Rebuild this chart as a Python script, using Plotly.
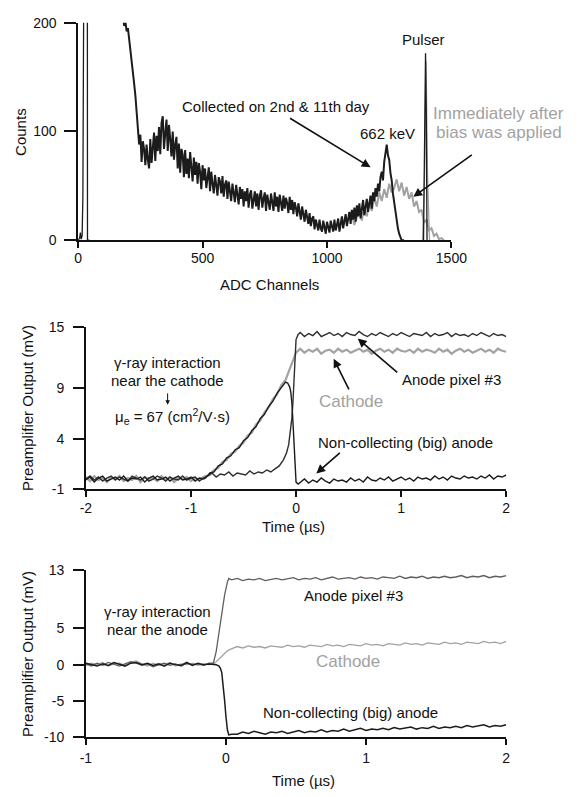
import numpy as np
import plotly.graph_objects as go

W, H = 579, 797

# ---------------- Top panel: spectra (ADC channel vs counts) ----------------
spec_start, spec_step = 180, 5
spec_black = [
    206, 197, 201, 192, 195, 185, 180, 167, 158, 144,
    133, 116, 108, 88, 97, 72, 91, 84, 69, 88,
    74, 66, 93, 71, 85, 99, 73, 96, 82, 104,
    79, 108, 114, 84, 98, 111, 82, 106, 93, 77,
    100, 74, 88, 95, 66, 89, 62, 84, 79, 58,
    83, 61, 75, 57, 81, 66, 54, 76, 60, 72,
    52, 71, 63, 47, 69, 55, 66, 48, 61, 67,
    45, 63, 52, 43, 60, 49, 41, 58, 54, 43,
    59, 40, 51, 55, 38, 54, 46, 36, 52, 43,
    35, 51, 44, 33, 49, 38, 47, 31, 45, 36,
    48, 30, 42, 46, 29, 40, 45, 31, 43, 28,
    41, 46, 30, 38, 44, 27, 42, 35, 28, 43,
    33, 27, 44, 31, 40, 26, 42, 36, 27, 41,
    29, 39, 34, 25, 40, 28, 37, 24, 35, 30,
    22, 34, 27, 19, 31, 24, 17, 28, 21, 15,
    25, 13, 20, 22, 10, 19, 14, 9, 19, 11,
    8, 18, 12, 6, 17, 10, 7, 18, 11, 8,
    19, 9, 14, 20, 8, 17, 22, 11, 19, 24,
    13, 21, 26, 15, 28, 19, 30, 17, 32, 22,
    34, 20, 29, 37, 23, 33, 38, 26, 35, 41,
    29, 44, 36, 48, 40, 52, 45, 58, 63, 55,
    72, 80, 88, 78, 74, 62, 55, 43, 34, 25,
    17, 11, 6, 2, 0, 0, 0,
]
gray_start, gray_step = 1100, 10
spec_gray = [
    24, 14, 21, 29, 18, 31, 22, 35, 27, 39,
    31, 44, 36, 47, 39, 52, 44, 48, 56, 45,
    53, 41, 49, 38, 44, 31, 36, 26, 28, 16,
    19, 9, 11, 4, 6, 1, 2, 0,
]
low_spike_ch = [0, 6, 9, 12, 16, 19, 23, 30, 37, 37.5, 45]
low_spike_counts = [0, 2, 7, 1, 4, 40, 260, 300, 260, 0, 0]
pulser_black_ch = [1388, 1394, 1396, 1399, 1402]
pulser_black_counts = [0, 120, 172, 118, 0]
pulser_gray_ch = [1384, 1392, 1398, 1404, 1412]
pulser_gray_counts = [0, 60, 165, 60, 0]

# ---------------- Middle panel: near-cathode interaction ----------------
mid_t_pre = np.round(np.arange(-2.0, -0.87, 0.04), 2)
mid_cath_pre = [0.2, -0.2, 0.3, -0.1, 0.1, -0.3, 0.2, 0.0, 0.3, -0.2, 0.1, -0.1, 0.3, -0.3, 0.2,
                0.0, 0.1, -0.2, 0.3, -0.1, 0.2, -0.3, 0.1, 0.0, 0.2, -0.2, 0.1, -0.1, 0.2]
mid_big_pre = [-0.1, 0.2, -0.3, 0.1, 0.3, -0.2, 0.0, 0.2, -0.1, 0.3, -0.2, 0.1, 0.0, 0.2, -0.3,
               0.1, 0.3, -0.1, 0.0, 0.2, -0.2, 0.1, 0.3, -0.1, 0.0, 0.2, -0.2, 0.1, 0.0]
mid_anode_pre = [0.0, 0.3, -0.1, 0.2, -0.2, 0.1, 0.3, -0.1, 0.2, 0.0, -0.2, 0.3, 0.1, -0.1, 0.2,
                 -0.2, 0.0, 0.3, 0.1, -0.2, 0.2, 0.0, -0.1, 0.3, -0.1, 0.1, 0.2, -0.2, 0.1]

mid_cath_rise_t = [-0.86, -0.82, -0.78, -0.74, -0.70, -0.66, -0.62, -0.58, -0.54, -0.50,
                   -0.46, -0.42, -0.38, -0.34, -0.30, -0.26, -0.22, -0.18, -0.14, -0.10,
                   -0.06, -0.03, 0.00]
mid_cath_rise_v = [0.3, 0.4, 0.9, 1.1, 1.7, 1.9, 2.5, 2.7, 3.3, 3.6,
                   4.3, 4.6, 5.4, 5.8, 6.6, 7.1, 7.9, 8.4, 9.3, 9.8,
                   10.9, 11.6, 12.5]
mid_big_rise_t = [-0.86, -0.82, -0.78, -0.74, -0.70, -0.66, -0.62, -0.58, -0.54, -0.50,
                  -0.46, -0.42, -0.38, -0.34, -0.30, -0.26, -0.22, -0.18, -0.14,
                  -0.12, -0.10, -0.08, -0.06, -0.05, -0.04, -0.03, -0.02, -0.01, 0.00, 0.02]
mid_big_rise_v = [0.1, 0.6, 0.7, 1.3, 1.5, 2.1, 2.3, 2.9, 3.1, 3.8,
                  4.1, 4.8, 5.2, 6.0, 6.4, 7.2, 7.7, 8.5, 9.1,
                  9.4, 9.6, 9.5, 9.1, 8.6, 7.6, 5.8, 3.2, 1.0, -0.3, -0.5]
mid_anode_rise_t = [-0.84, -0.80, -0.76, -0.72, -0.68, -0.64, -0.60, -0.56, -0.52, -0.48,
                    -0.44, -0.40, -0.36, -0.32, -0.28, -0.24,
                    -0.20, -0.16, -0.12, -0.09, -0.07, -0.05, -0.04, -0.03, -0.02, -0.01, 0.00, 0.02]
mid_anode_rise_v = [0.3, 0.6, 0.2, 0.5, 0.4, 0.7, 0.3, 0.6, 0.5, 0.4,
                    0.8, 0.5, 0.7, 0.6, 0.9, 0.7,
                    1.0, 1.3, 1.9, 2.6, 3.4, 4.8, 6.0, 7.5, 9.3, 11.6, 13.8, 14.3]

mid_t_post = np.round(np.arange(0.04, 2.001, 0.04), 2)
mid_cath_post = [12.9, 12.5, 12.8, 12.6, 12.9, 12.4, 12.7, 12.8, 12.5, 12.9,
                 12.6, 12.8, 12.5, 12.7, 12.9, 12.6, 12.8, 12.4, 12.7, 12.9,
                 12.6, 12.8, 12.5, 12.9, 12.7, 12.6, 12.8, 12.5, 12.9, 12.6,
                 12.8, 12.7, 12.5, 12.9, 12.6, 12.8, 12.4, 12.7, 12.9, 12.6,
                 12.8, 12.5, 12.7, 12.9, 12.6, 12.8, 12.5, 12.9, 12.7, 12.6]
mid_big_post = [-0.3, 0.0, -0.4, -0.1, -0.3, 0.1, -0.2, -0.4, 0.0, -0.2,
                -0.1, -0.3, 0.1, -0.2, 0.0, -0.3, 0.2, -0.1, -0.2, 0.1,
                -0.1, 0.2, -0.2, 0.0, 0.2, -0.1, 0.1, -0.2, 0.2, 0.0,
                0.1, -0.1, 0.3, 0.0, 0.2, -0.1, 0.3, 0.1, 0.0, 0.3,
                0.1, 0.2, 0.0, 0.3, 0.1, 0.4, 0.0, 0.3, 0.2, 0.4]
mid_anode_post = [14.5, 14.1, 14.4, 14.2, 14.6, 14.1, 14.3, 14.5, 14.2, 14.4,
                  14.1, 14.5, 14.3, 14.2, 14.6, 14.3, 14.1, 14.4, 14.2, 14.5,
                  14.3, 14.1, 14.4, 14.2, 14.5, 14.3, 14.1, 14.4, 14.3, 14.2,
                  14.5, 14.1, 14.4, 14.2, 14.3, 14.5, 14.1, 14.4, 14.2, 14.3,
                  14.1, 14.4, 14.2, 14.5, 14.3, 14.1, 14.4, 14.2, 14.3, 14.1]

# ---------------- Bottom panel: near-anode interaction ----------------
bot_t_pre = np.round(np.arange(-1.0, -0.119, 0.04), 2)
bot_anode_pre = [0.1, -0.2, 0.2, -0.1, 0.3, 0.0, -0.2, 0.1, 0.4, 0.2, -0.1, 0.1,
                 -0.3, 0.0, 0.2, -0.1, 0.1, -0.2, 0.2, 0.0, 0.1, -0.1, 0.2]
bot_cath_pre = [-0.1, 0.2, 0.0, 0.3, -0.2, 0.1, 0.2, -0.1, 0.3, 0.5, 0.1, -0.2,
                0.2, -0.1, 0.0, 0.3, -0.2, 0.1, 0.0, 0.2, -0.1, 0.1, 0.0]
bot_big_pre = [0.2, 0.0, -0.2, 0.1, -0.1, 0.3, 0.1, -0.2, 0.2, 0.3, 0.0, 0.2,
               -0.1, 0.1, -0.2, 0.2, 0.0, -0.1, 0.3, -0.1, 0.2, 0.0, 0.1]
bot_anode_rise_t = [-0.09, -0.07, -0.05, -0.03, -0.01, 0.01, 0.02, 0.04]
bot_anode_rise_v = [0.2, 1.8, 4.4, 7.0, 9.6, 11.4, 11.9, 11.7]
bot_cath_rise_t = [-0.09, -0.07, -0.05, -0.03, -0.01, 0.01, 0.03, 0.05]
bot_cath_rise_v = [0.1, 0.4, 0.8, 1.2, 1.6, 1.9, 2.1, 2.3]
bot_big_drop_t = [-0.09, -0.07, -0.05, -0.04, -0.03, -0.02, -0.01, 0.00, 0.01, 0.02, 0.04]
bot_big_drop_v = [0.1, 0.0, -0.2, -0.5, -1.1, -2.6, -4.9, -7.2, -9.0, -9.7, -9.6]
bot_t_post = np.round(np.arange(0.08, 2.001, 0.04), 2)
bot_anode_post = [11.9, 11.6, 11.8, 11.7, 11.9, 11.6, 11.8, 11.9, 11.7, 11.8,
                  12.0, 11.7, 11.9, 11.8, 12.0, 11.7, 11.9, 12.1, 11.8, 11.9,
                  12.0, 11.8, 12.1, 11.9, 12.0, 11.8, 12.1, 12.0, 11.9, 12.2,
                  11.9, 12.1, 12.0, 12.2, 11.9, 12.1, 12.0, 12.2, 12.0, 12.1,
                  12.3, 12.0, 12.2, 12.1, 12.3, 12.0, 12.2, 12.1, 12.3]
bot_cath_post = [2.5, 2.3, 2.6, 2.4, 2.5, 2.3, 2.6, 2.5, 2.4, 2.7,
                 2.5, 2.6, 2.4, 2.7, 2.6, 2.5, 2.8, 2.6, 2.7, 2.5,
                 2.8, 2.7, 2.6, 2.9, 2.7, 2.8, 2.6, 2.9, 2.8, 2.7,
                 3.0, 2.8, 2.9, 2.7, 3.0, 2.9, 2.8, 3.1, 2.9, 3.0,
                 2.8, 3.1, 3.0, 2.9, 3.2, 3.0, 3.1, 2.9, 3.2]
bot_big_post = [-9.6, -9.3, -9.5, -9.2, -9.4, -9.6, -9.3, -9.4, -9.2, -9.5,
                -9.3, -9.1, -9.4, -9.2, -9.3, -9.0, -9.3, -9.1, -9.2, -8.9,
                -9.2, -9.0, -8.8, -9.1, -8.9, -9.0, -8.8, -9.0, -8.7, -8.9,
                -8.8, -8.6, -8.9, -8.7, -8.8, -8.5, -8.8, -8.6, -8.7, -8.5,
                -8.7, -8.4, -8.6, -8.5, -8.3, -8.6, -8.4, -8.5, -8.3]

# ---------------- Tick labels ----------------
top_xticks = [0, 500, 1000, 1500]
top_yticks = [0, 100, 200]
mid_xticks = [-2, -1, 0, 1, 2]
mid_yticks = [-1, 4, 9, 15]
bot_xticks = [-1, 0, 1, 2]
bot_yticks = [-10, -5, 0, 5, 13]

# ---------------- Build figure ----------------
BLACK = '#1c1c1c'
DARK = '#2e2e2e'
MIDGRAY = '#5e5e5e'
GRAY = '#a2a2a2'
FONT = 'Arial'


def fx(p):
    return p / W


def fy(p):
    return 1 - p / H


def line(x, y, color, width, ax='x', ay='y'):
    return go.Scatter(x=list(x), y=list(y), mode='lines', xaxis=ax, yaxis=ay,
                      line=dict(color=color, width=width), hoverinfo='skip', showlegend=False)


spec_x = [spec_start + spec_step * i for i in range(len(spec_black))]
gray_x = [gray_start + gray_step * i for i in range(len(spec_gray))]

fig = go.Figure()
fig.add_trace(line(gray_x, spec_gray, GRAY, 2.0))
fig.add_trace(line(pulser_gray_ch, pulser_gray_counts, GRAY, 1.3))
fig.add_trace(line(low_spike_ch, low_spike_counts, BLACK, 1.3))
fig.add_trace(line(spec_x, spec_black, BLACK, 2.0))
fig.add_trace(line(pulser_black_ch, pulser_black_counts, BLACK, 1.3))

# middle
fig.add_trace(line(list(mid_t_pre) + mid_cath_rise_t + list(mid_t_post),
                   mid_cath_pre + mid_cath_rise_v + mid_cath_post, GRAY, 2.2, 'x2', 'y2'))
fig.add_trace(line(list(mid_t_pre) + mid_anode_rise_t + list(mid_t_post),
                   mid_anode_pre + mid_anode_rise_v + mid_anode_post, DARK, 1.4, 'x2', 'y2'))
fig.add_trace(line(list(mid_t_pre) + mid_big_rise_t + list(mid_t_post),
                   mid_big_pre + mid_big_rise_v + mid_big_post, BLACK, 1.4, 'x2', 'y2'))

# bottom
fig.add_trace(line(list(bot_t_pre) + bot_cath_rise_t + list(bot_t_post),
                   bot_cath_pre + bot_cath_rise_v + bot_cath_post, GRAY, 1.3, 'x3', 'y3'))
fig.add_trace(line(list(bot_t_pre) + bot_anode_rise_t + list(bot_t_post),
                   bot_anode_pre + bot_anode_rise_v + bot_anode_post, MIDGRAY, 1.3, 'x3', 'y3'))
fig.add_trace(line(list(bot_t_pre) + bot_big_drop_t + list(bot_t_post),
                   bot_big_pre + bot_big_drop_v + bot_big_post, BLACK, 1.5, 'x3', 'y3'))

axis_common = dict(showline=True, linecolor='#111', linewidth=1.5, ticks='outside',
                   tickcolor='#111', tickwidth=1.5, showgrid=False, zeroline=False,
                   tickfont=dict(family=FONT, size=14, color='#111'), fixedrange=True)


def ticks(vals):
    return dict(tickvals=vals, ticktext=[str(v) for v in vals])


fig.update_layout(
    width=W, height=H, margin=dict(l=0, r=0, t=0, b=0),
    paper_bgcolor='white', plot_bgcolor='white', showlegend=False,
    xaxis=dict(domain=[fx(75), fx(463)], range=[0, 1500], ticklen=6,
               anchor='y', ticklabelstandoff=-2, **ticks(top_xticks), **axis_common),
    yaxis=dict(domain=[fy(237), fy(15)], range=[0, 200], ticklen=12,
               anchor='x', ticklabelstandoff=5, **ticks(top_yticks), **axis_common),
    xaxis2=dict(domain=[fx(83), fx(520)], range=[-2, 2], ticklen=6,
                anchor='y2', ticklabelstandoff=-1, **ticks(mid_xticks), **axis_common),
    yaxis2=dict(domain=[fy(491), fy(326)], range=[-1, 15], ticklen=11,
                anchor='x2', ticklabelstandoff=6, **ticks(mid_yticks), **axis_common),
    xaxis3=dict(domain=[fx(83), fx(520)], range=[-1, 2], ticklen=6,
                anchor='y3', ticklabelstandoff=1, **ticks(bot_xticks), **axis_common),
    yaxis3=dict(domain=[fy(744), fy(574)], range=[-10, 13], ticklen=11,
                anchor='x3', ticklabelstandoff=6, **ticks(bot_yticks), **axis_common),
)


def label(text, x, y, size=15, color='#111', angle=0, xanchor='center'):
    fig.add_annotation(text=text, x=fx(x), y=fy(y), xref='paper', yref='paper',
                       showarrow=False, textangle=angle, xanchor=xanchor, yanchor='middle',
                       font=dict(family=FONT, size=size, color=color))


def arrow(xr, yr, x, y, ax, ay, size=1.1, width=1.6):
    fig.add_annotation(text='', x=x, y=y, xref=xr, yref=yr, ax=ax, ay=ay,
                       showarrow=True, arrowhead=2, arrowsize=size, arrowwidth=width,
                       arrowcolor='#111')


# axis titles
label('Counts', 15, 126, angle=-90)
label('ADC Channels', 274, 282)
label('Preamplifier Output (mV)', 23, 408, angle=-90)
label('Time (µs)', 299, 529)
label('Preamplifier Output (mV)', 23, 659, angle=-90)
label('Time (µs)', 309, 788)

# top annotations
label('Collected on 2nd &amp; 11th day', 281, 101)
label('662 keV', 397, 128)
label('Pulser', 434, 32)
label('Immediately after', 512, 108, size=17, color=GRAY)
label('bias was applied', 512, 127, size=17, color=GRAY)
arrow('x', 'y', 1175, 67, -82, -50)
arrow('x', 'y', 1347, 40, 60, -43)

# middle annotations
label('γ-ray interaction', 168, 362)
label('near the cathode', 168, 380)
arrow('paper', 'paper', fx(168), fy(405), 0, -13, size=0.9, width=1.0)
label('μ<sub>e</sub> = 67 (cm<sup>2</sup>/V·s)', 173, 417)
label('Anode pixel #3', 463, 379)
label('Cathode', 359, 402, size=17, color=GRAY)
label('Non-collecting (big) anode', 415, 443)
arrow('x2', 'y2', 0.587, 13.9, 41, 35)
arrow('x2', 'y2', 0.358, 11.9, 16, 32)
arrow('x2', 'y2', 0.193, 0.55, 25, -22)

# bottom annotations
label('γ-ray interaction', 157, 616)
label('near the anode', 157, 634)
label('Anode pixel #3', 361, 600)
label('Cathode', 356, 667, size=17, color=GRAY)
label('Non-collecting (big) anode', 358, 719)

fig.write_html("out.html", config={'displayModeBar': False},
               post_script="document.body.style.margin='0';document.body.style.overflow='hidden';")
